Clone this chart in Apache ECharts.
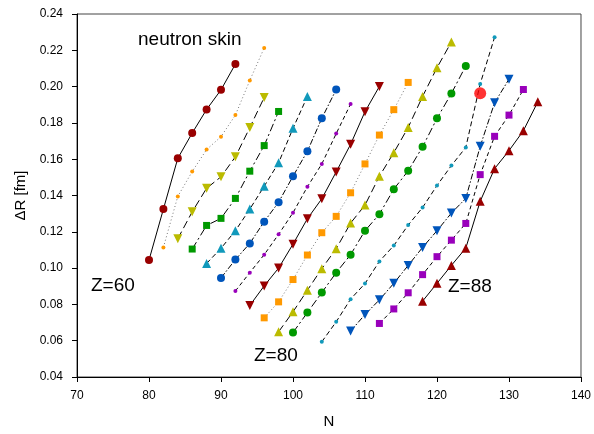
<!DOCTYPE html>
<html>
<head>
<meta charset="utf-8">
<script src="https://cdn.jsdelivr.net/npm/echarts@6/dist/echarts.min.js"></script>
<style>
  html, body { margin: 0; padding: 0; background: #fff; }
  #chart { width: 594px; height: 434px; }
</style>
</head>
<body>
<div id="chart"></div>
<script>
// Neutron skin thickness ΔR [fm] versus neutron number N, one isotope chain per Z.
const z60 = [[80,0.1044],[82,0.1325],[84,0.1605],[86,0.1744],[88,0.1874],[90,0.1982],[92,0.2124]];
const z62 = [[82,0.1114],[84,0.1395],[86,0.1532],[88,0.1653],[90,0.1724],[92,0.1843],[94,0.2034],[96,0.2213]];
const z64 = [[84,0.1162],[86,0.1310],[88,0.1440],[90,0.1503],[92,0.1613],[94,0.1774],[96,0.1940]];
const z66 = [[86,0.1105],[88,0.1235],[90,0.1274],[92,0.1384],[94,0.1534],[96,0.1675],[98,0.1863]];
const z68 = [[88,0.1026],[90,0.1109],[92,0.1206],[94,0.1325],[96,0.1451],[98,0.1580],[100,0.1770],[102,0.1946]];
const z70 = [[90,0.0946],[92,0.1047],[94,0.1136],[96,0.1256],[98,0.1363],[100,0.1506],[102,0.1644],[104,0.1825],[106,0.1984]];
const z72 = [[92,0.0874],[94,0.0975],[96,0.1074],[98,0.1186],[100,0.1305],[102,0.1448],[104,0.1574],[106,0.1741],[108,0.1904]];
const z74 = [[94,0.0794],[96,0.0902],[98,0.1000],[100,0.1132],[102,0.1272],[104,0.1382],[106,0.1530],[108,0.1682],[110,0.1862],[112,0.2001]];
const z76 = [[96,0.0726],[98,0.0814],[100,0.0937],[102,0.1072],[104,0.1195],[106,0.1285],[108,0.1415],[110,0.1574],[112,0.1733],[114,0.1873],[116,0.2023]];
const z78 = [[98,0.0649],[100,0.0759],[102,0.0878],[104,0.0997],[106,0.1107],[108,0.1248],[110,0.1347],[112,0.1506],[114,0.1636],[116,0.1775],[118,0.1946],[120,0.2104],[122,0.2246]];
const z80 = [[100,0.0645],[102,0.0755],[104,0.0865],[106,0.0975],[108,0.1074],[110,0.1206],[112,0.1297],[114,0.1435],[116,0.1536],[118,0.1668],[120,0.1825],[122,0.1962],[124,0.2114]];
const z82 = [[104,0.0594],[106,0.0704],[108,0.0829],[110,0.0915],[112,0.1037],[114,0.1124],[116,0.1237],[118,0.1334],[120,0.1455],[122,0.1565],[124,0.1665],[126,0.2015],[128,0.2272]];
const z84 = [[108,0.0653],[110,0.0744],[112,0.0825],[114,0.0916],[116,0.1015],[118,0.1114],[120,0.1206],[122,0.1303],[124,0.1384],[126,0.1671],[128,0.1911],[130,0.2041]];
const z86 = [[112,0.0695],[114,0.0775],[116,0.0864],[118,0.0964],[120,0.1063],[122,0.1154],[124,0.1246],[126,0.1515],[128,0.1726],[130,0.1843],[132,0.1984]];
const z88 = [[118,0.0818],[120,0.0916],[122,0.1015],[124,0.1110],[126,0.1368],[128,0.1548],[130,0.1647],[132,0.1757],[134,0.1916]];
const pb208 = [[126,0.1964]];

const chains = [z60, z62, z64, z66, z68, z70, z72, z74, z76, z78, z80, z82, z84, z86, z88];
const chainNames = ['Z=60','Z=62','Z=64','Z=66','Z=68','Z=70','Z=72','Z=74','Z=76','Z=78','Z=80','Z=82','Z=84','Z=86','Z=88'];
const xTicks = [70, 140, 10];
const yTicks = [0.04, 0.24, 0.02];

// Colour, line pattern cycle (period 7) and per-chain symbol
const colors = ['#990000', '#ff9900', '#bbbb00', '#009900', '#1199bb', '#0055bb', '#9900bb'];
const dashes = ['solid', [1, 2.5], [8, 4], [8, 3, 2, 3], [5, 3], [6, 2, 1.5, 2], [4, 3]];
const lineColors = ['#000', '#777', '#000', '#000', '#000', '#000', '#000'];
const symbols = [
  ['circle', 8, 0], ['circle', 4, 0], ['triangle', 9, 180], ['rect', 7, 0], ['triangle', 9, 0],
  ['circle', 8, 0], ['circle', 4, 0], ['triangle', 9, 180], ['rect', 7, 0], ['triangle', 9, 0],
  ['circle', 8, 0], ['circle', 4, 0], ['triangle', 9, 180], ['rect', 7, 0], ['triangle', 9, 0]
];

const FONT = 'Liberation Sans, Arial, sans-serif';

const series = chains.map((d, i) => ({
  name: chainNames[i],
  type: 'line',
  data: d,
  symbol: symbols[i][0],
  symbolSize: symbols[i][1],
  symbolRotate: symbols[i][2],
  itemStyle: { color: colors[i % 7] },
  lineStyle: { color: lineColors[i % 7], width: 1, type: dashes[i % 7] },
  z: 2
}));
series.push({
  name: '208Pb',
  type: 'scatter',
  data: pb208,
  symbol: 'circle',
  symbolSize: 12,
  itemStyle: { color: '#ff0000' },
  z: 5
});

const chart = echarts.init(document.getElementById('chart'), null, { renderer: 'canvas' });
chart.setOption({
  animation: false,
  backgroundColor: '#fff',
  grid: { left: 77, right: 13, top: 14, bottom: 56, show: true, borderColor: '#444', borderWidth: 1, backgroundColor: 'transparent' },
  xAxis: {
    type: 'value', min: xTicks[0], max: xTicks[1], interval: xTicks[2],
    name: 'N', nameLocation: 'middle', nameGap: 37,
    nameTextStyle: { fontFamily: FONT, fontSize: 15, color: '#000' },
    axisLine: { lineStyle: { color: '#000' } },
    axisTick: { show: true, inside: false, length: 5, lineStyle: { color: '#000' } },
    axisLabel: { fontFamily: FONT, fontSize: 12, color: '#000', margin: 13 },
    splitLine: { show: false }
  },
  yAxis: {
    type: 'value', min: yTicks[0], max: yTicks[1], interval: yTicks[2],
    name: 'ΔR [fm]', nameLocation: 'middle', nameGap: 47,
    nameTextStyle: { fontFamily: FONT, fontSize: 15, color: '#000' },
    axisLine: { show: true, lineStyle: { color: '#000' } },
    axisTick: { show: true, inside: false, length: 5, lineStyle: { color: '#000' } },
    axisLabel: { fontFamily: FONT, fontSize: 12, color: '#000', margin: 14, formatter: v => v.toFixed(2) },
    splitLine: { show: false }
  },
  series: series,
  graphic: [
    { type: 'text', x: 138, y: 40, style: { text: 'neutron skin', font: '19px ' + FONT, fill: '#000', verticalAlign: 'middle' } },
    { type: 'text', x: 91, y: 286, style: { text: 'Z=60', font: '19px ' + FONT, fill: '#000', verticalAlign: 'middle' } },
    { type: 'text', x: 254, y: 356, style: { text: 'Z=80', font: '19px ' + FONT, fill: '#000', verticalAlign: 'middle' } },
    { type: 'text', x: 448, y: 287, style: { text: 'Z=88', font: '19px ' + FONT, fill: '#000', verticalAlign: 'middle' } }
  ]
});
</script>
</body>
</html>
